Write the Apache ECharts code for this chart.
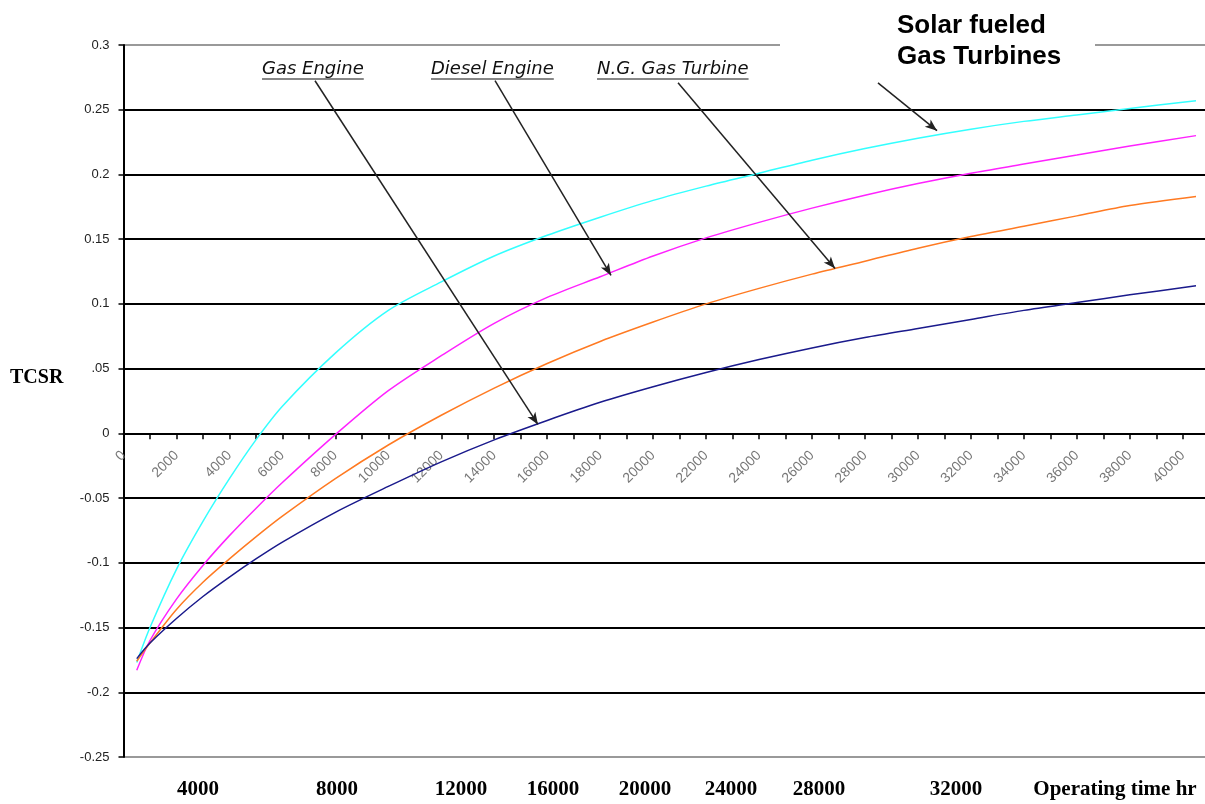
<!DOCTYPE html>
<html><head><meta charset="utf-8">
<script src="https://cdn.jsdelivr.net/npm/echarts@6/dist/echarts.min.js"></script>
<style>html,body{margin:0;padding:0;background:#fff}#c{width:1205px;height:804px}</style>
</head><body><div id="c"></div>
<script>
// Operating time (hr) sample points
const hours = [500,1000,2000,3000,4000,5000,6000,8000,10000,12000,14000,16000,18000,20000,22000,24000,26000,28000,30000,32000,34000,36000,38000,40500];
// TCSR values
const solarGT  = [-0.177,-0.150,-0.105,-0.068,-0.035,-0.005,0.021,0.062,0.095,0.117,0.137,0.153,0.167,0.180,0.191,0.201,0.211,0.220,0.228,0.235,0.241,0.246,0.251,0.257];
const diesel   = [-0.183,-0.160,-0.128,-0.102,-0.079,-0.058,-0.038,-0.001,0.033,0.060,0.085,0.105,0.121,0.137,0.151,0.163,0.174,0.184,0.193,0.201,0.208,0.215,0.222,0.230];
const ngTurb   = [-0.176,-0.162,-0.136,-0.115,-0.097,-0.080,-0.064,-0.035,-0.009,0.014,0.035,0.054,0.071,0.086,0.100,0.112,0.123,0.133,0.143,0.152,0.160,0.168,0.176,0.183];
const gasEng   = [-0.174,-0.162,-0.143,-0.126,-0.111,-0.097,-0.084,-0.061,-0.041,-0.022,-0.005,0.010,0.024,0.036,0.047,0.057,0.066,0.074,0.081,0.088,0.095,0.101,0.107,0.114];
// Annotation texts
const curveLabels = ['Gas Engine','Diesel Engine','N.G. Gas Turbine'];
const solarLabel = 'Solar fueled\nGas Turbines';
const bottomLabels = ['4000','8000','12000','16000','20000','24000','28000','32000','Operating time hr'];
// Arrow start/end in data coordinates [hours, TCSR]
const arrows = [
  [[7232,0.2724],[15650,0.0069]],
  [[14030,0.2724],[18410,0.122]],
  [[20940,0.2708],[26870,0.1273]],
  [[28490,0.2708],[30720,0.2338]]
];

const pair = (ys) => hours.map((h,i)=>[h,ys[i]]);

// layout (pixels) kept separately
const curveLabelPos = [[262,69],[431,69],[597,69]];
const bottomLabelX = [198,337,461,553,645,731,819,956,1115];
const LABEL_FONT = 'italic 18px "DejaVu Sans", sans-serif';

const chart = echarts.init(document.getElementById('c'), null, {renderer:'canvas'});

const graphics = [];
graphics.push({type:'rect', shape:{x:780,y:0,width:315,height:75}, style:{fill:'#fff'}, z:50});
graphics.push({type:'text', x:897, y:10, z:51, style:{text:solarLabel, font:'bold 26px "Liberation Sans", Arial', fill:'#000', lineHeight:31}});
curveLabels.forEach((t,i)=>{
  graphics.push({type:'text', x:curveLabelPos[i][0], y:curveLabelPos[i][1], z:51,
    style:{text:t, font:LABEL_FONT, fill:'#111', textVerticalAlign:'middle'}});
  const w = echarts.format.getTextRect ? echarts.format.getTextRect(t, LABEL_FONT).width : t.length*10;
  graphics.push({type:'line', z:51, shape:{x1:curveLabelPos[i][0], y1:curveLabelPos[i][1]+10, x2:curveLabelPos[i][0]+w, y2:curveLabelPos[i][1]+10}, style:{stroke:'#111', lineWidth:1.2}});
});
graphics.push({type:'text', x:10, y:378, z:51, style:{text:'TCSR', font:'bold 20px "Liberation Serif", serif', fill:'#000', textVerticalAlign:'middle'}});
bottomLabels.forEach((t,i)=>{
  graphics.push({type:'text', x:bottomLabelX[i], y:790, z:51,
    style:{text:t, font:'bold 21px "Liberation Serif", serif', fill:'#000', textAlign:'center', textVerticalAlign:'middle'}});
});

const gridTop = 45, gridBottom = 47, plotH = 804 - gridTop - gridBottom;
const yMin = -0.25, yMax = 0.3;
const zeroOffset = -plotH * (0 - yMin) / (yMax - yMin);

const option = {
  animation:false,
  backgroundColor:'#fff',
  grid:{left:123.5, right:0, top:gridTop, bottom:gridBottom, containLabel:false},
  xAxis:{
    type:'value', min:0, max:40840, interval:1000, position:'bottom', offset:zeroOffset,
    axisLine:{onZero:false, lineStyle:{color:'#000', width:2}},
    axisTick:{show:true, length:6, lineStyle:{color:'#000', width:1.5}},
    axisLabel:{rotate:45, margin:20, color:'#777', fontSize:14, fontFamily:'"Liberation Sans", Arial',
      showMaxLabel:false,
      formatter:(v)=> (Math.round(v)%2000===0 && v<=40000) ? String(Math.round(v)) : ''},
    splitLine:{show:false}
  },
  yAxis:{
    type:'value', min:yMin, max:yMax, interval:0.05,
    axisLine:{show:true, lineStyle:{color:'#000', width:2}},
    axisTick:{show:true, length:5, lineStyle:{color:'#000', width:1.5}},
    axisLabel:{margin:14, color:'#222', fontSize:13, fontFamily:'"Liberation Sans", Arial',
      formatter:(v)=>{ const r = +(+v).toFixed(2); return Math.abs(r-0.05)<1e-9 ? '.05' : String(r); }},
    splitLine:{show:true, lineStyle:{width:2, color:['#999','#000','#000','#000','#000','#000','#000','#000','#000','#000','#000','#999']}}
  },
  series:[
    {name:'Solar fueled Gas Turbines', type:'line', data:pair(solarGT), smooth:0.3, showSymbol:false, lineStyle:{color:'#33FFFF', width:1.5}, z:3},
    {name:'Diesel Engine', type:'line', data:pair(diesel), smooth:0.3, showSymbol:false, lineStyle:{color:'#FF22FF', width:1.5}, z:3},
    {name:'N.G. Gas Turbine', type:'line', data:pair(ngTurb), smooth:0.3, showSymbol:false, lineStyle:{color:'#FF7A22', width:1.5}, z:3},
    {name:'Gas Engine', type:'line', data:pair(gasEng), smooth:0.3, showSymbol:false, lineStyle:{color:'#1A1A8C', width:1.5}, z:3,
      markLine:{silent:true, symbol:['none','arrow'], symbolSize:[7,12], label:{show:false},
        lineStyle:{color:'#222', width:1.5, type:'solid'},
        data: arrows.map(a=>[{coord:a[0]},{coord:a[1]}])}}
  ],
  graphic: graphics
};
chart.setOption(option);
</script></body></html>
